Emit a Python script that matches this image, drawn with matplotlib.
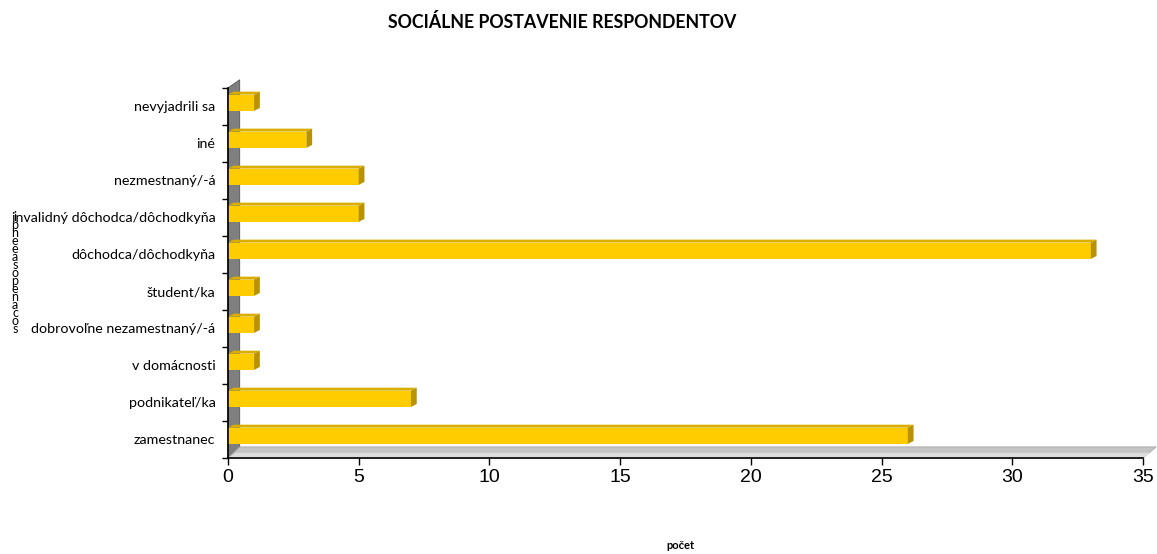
import matplotlib.pyplot as plt
import matplotlib.patches as patches

categories = ['zamestnanec', 'podnikateľ/ka', 'v domácnosti', 'dobrovoľne nezamestnaný/-á',
              'študent/ka', 'dôchodca/dôchodkyňa', 'invalidný dôchodca/dôchodkyňa',
              'nezmestnaný/-á', 'iné', 'nevyjadrili sa']
values = [26, 7, 1, 1, 1, 33, 5, 5, 3, 1]
xticks = [0, 5, 10, 15, 20, 25, 30, 35]

FRONT = '#FFCC00'
TOP = '#D9AE00'
SIDE = '#B89200'


def draw_bar(ax, y, value, h=0.44, dx=0.22, dy=0.08):
    # front face + top strip + right cap to fake the 3D look
    ax.barh(y, value, height=h, color=FRONT, zorder=3)
    b, t = y - h / 2, y + h / 2
    ax.add_patch(patches.Polygon([[0, t], [value, t], [value + dx, t + dy], [dx, t + dy]],
                                 facecolor=TOP, edgecolor='none', zorder=3))
    ax.add_patch(patches.Polygon([[value, b], [value, t], [value + dx, t + dy], [value + dx, b + dy]],
                                 facecolor=SIDE, edgecolor='none', zorder=3))


def main():
    fig = plt.figure(figsize=(11.57, 5.54), dpi=100)
    ax = fig.add_axes([0.197, 0.1733, 0.791, 0.668])
    n = len(categories)
    ax.set_xlim(0, 35)
    ax.set_ylim(-0.5, n - 0.5)

    # back wall and floor
    ax.add_patch(patches.Polygon([[0, -0.5], [0, n - 0.5], [0.45, n - 0.28], [0.45, -0.2]],
                                 facecolor='#7F7F7F', edgecolor='#555555', lw=0.6,
                                 clip_on=False, zorder=1))
    ax.add_patch(patches.Polygon([[0, -0.5], [35, -0.5], [35.5, -0.2], [0.45, -0.2]],
                                 facecolor='#C4C4C4', edgecolor='#A8A8A8', lw=0.6,
                                 clip_on=False, zorder=1))
    ax.add_patch(patches.Polygon([[0, -0.5], [35, -0.5], [35.3, -0.36], [0.3, -0.36]],
                                 facecolor='#DCDCDC', edgecolor='none',
                                 clip_on=False, zorder=1))

    for i, v in enumerate(values):
        draw_bar(ax, i + 0.1, v)

    ax.set_yticks(range(n))
    ax.set_yticklabels(categories, fontsize=10.3, family='Lato')
    ax.set_yticks([i - 0.5 for i in range(n + 1)], minor=True)
    ax.tick_params(axis='y', which='major', length=0, pad=9)
    ax.tick_params(axis='y', which='minor', length=4, direction='out', width=1)
    ax.set_xticks(xticks)
    ax.set_xticklabels([str(x) for x in xticks], fontsize=14, family='Liberation Sans')
    ax.tick_params(axis='x', length=5, direction='out', width=1, pad=3)

    for s in ['top', 'right']:
        ax.spines[s].set_visible(False)
    ax.spines['left'].set_linewidth(1.2)
    ax.spines['bottom'].set_linewidth(1.2)
    ax.spines['left'].set_zorder(5)
    ax.spines['bottom'].set_zorder(5)

    fig.text(0.486, 0.96, 'SOCIÁLNE POSTAVENIE RESPONDENTOV', ha='center', va='center',
             fontsize=12.8, fontweight='bold', family='Lato')
    fig.text(0.588, 0.005, 'počet', ha='center', va='bottom', fontsize=8,
             fontweight='bold', family='Lato')
    fig.text(0.013, 0.507, '\n'.join('ipneeasopenacos'), ha='center', va='center',
             fontsize=9, family='Lato', linespacing=0.6)

    fig.savefig('out.png', dpi=100)


if __name__ == '__main__':
    main()
